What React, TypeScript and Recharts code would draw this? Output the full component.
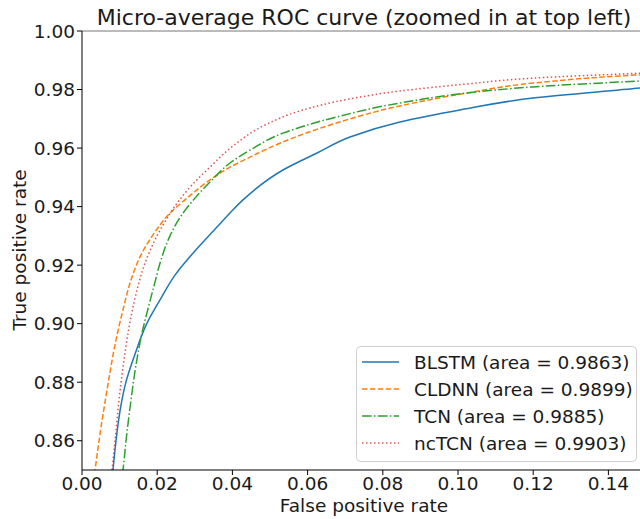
import { LineChart, Line, XAxis, YAxis, ReferenceLine } from 'recharts';

const xTicks = [0, 0.02, 0.04, 0.06, 0.08, 0.1, 0.12, 0.14];
const yTicks = [0.86, 0.88, 0.9, 0.92, 0.94, 0.96, 0.98, 1.0];

const blstmFpr = [0.0077, 0.00824, 0.00904, 0.01037, 0.0117, 0.01383, 0.01729, 0.02074, 0.02473, 0.02952, 0.0359, 0.03936, 0.04282, 0.05346, 0.0625, 0.07128, 0.08457, 0.10053, 0.11995, 0.1484, 0.15];
const blstmTpr = [0.8432, 0.85, 0.8599, 0.8722, 0.8801, 0.8886, 0.9002, 0.9081, 0.9166, 0.9241, 0.933, 0.9378, 0.9423, 0.9525, 0.9583, 0.9638, 0.9689, 0.973, 0.9771, 0.9805, 0.9807];

const cldnnFpr = [0.00266, 0.00346, 0.00452, 0.00665, 0.00904, 0.0109, 0.01303, 0.01569, 0.01941, 0.0234, 0.02793, 0.03324, 0.03803, 0.04468, 0.05346, 0.06676, 0.08457, 0.10239, 0.11995, 0.1484, 0.15];
const cldnnTpr = [0.8432, 0.85, 0.8599, 0.8773, 0.8944, 0.9047, 0.9149, 0.9235, 0.9313, 0.9378, 0.9429, 0.9484, 0.9525, 0.9569, 0.9621, 0.9682, 0.9744, 0.9788, 0.9822, 0.985, 0.9851];

const tcnFpr = [0.0101, 0.0109, 0.0117, 0.01303, 0.01436, 0.01596, 0.01782, 0.01941, 0.02101, 0.0234, 0.02633, 0.03005, 0.03457, 0.03936, 0.04468, 0.05346, 0.06676, 0.08457, 0.10239, 0.11995, 0.1484, 0.15];
const tcnTpr = [0.8432, 0.85, 0.8599, 0.8739, 0.8859, 0.8968, 0.9064, 0.9142, 0.9218, 0.93, 0.9368, 0.9429, 0.9491, 0.9549, 0.9593, 0.9651, 0.9703, 0.9754, 0.9788, 0.9809, 0.9829, 0.983];

const nctcnFpr = [0.0074, 0.00798, 0.00878, 0.00984, 0.01117, 0.01277, 0.01463, 0.01676, 0.01941, 0.02234, 0.02553, 0.02926, 0.03404, 0.04016, 0.0492, 0.05798, 0.07128, 0.08457, 0.10239, 0.11995, 0.1484, 0.15];
const nctcnTpr = [0.8432, 0.85, 0.8599, 0.8739, 0.8876, 0.9006, 0.9115, 0.9207, 0.9286, 0.9354, 0.9416, 0.9474, 0.9535, 0.9607, 0.9682, 0.9727, 0.9768, 0.9795, 0.9819, 0.9839, 0.9856, 0.9857];

const labels = ['BLSTM (area = 0.9863)', 'CLDNN (area = 0.9899)', 'TCN (area = 0.9885)', 'ncTCN (area = 0.9903)'];
const colors = ['#1f77b4', '#ff7f0e', '#2ca02c', '#d62728'];
const dashes = [undefined, '5.5 2.4', '9.6 2.4 1.5 2.4', '1.5 2.5'];

const zip = (xs: number[], ys: number[]) => xs.map((x, i) => ({ x, y: ys[i] }));
const series = [
  zip(blstmFpr, blstmTpr),
  zip(cldnnFpr, cldnnTpr),
  zip(tcnFpr, tcnTpr),
  zip(nctcnFpr, nctcnTpr),
];

const font = '"DejaVu Sans", sans-serif';
const tickStyle = { fill: '#1a1a1a', fontSize: 18.5, fontFamily: font };

export default function App() {
  return (
    <div style={{ position: 'fixed', left: 0, top: 0, width: 640, height: 519, overflow: 'hidden', background: '#fff' }}>
      <LineChart width={660} height={519} margin={{ top: 31, right: 14, left: 0, bottom: 0 }}>
        <XAxis
          type="number"
          dataKey="x"
          domain={[0, 0.15]}
          ticks={xTicks}
          interval={0}
          allowDataOverflow
          tickFormatter={(v: number) => v.toFixed(2)}
          height={49}
          tickSize={5}
          stroke="#000"
          tick={tickStyle}
        />
        <YAxis
          type="number"
          dataKey="y"
          domain={[0.85, 1]}
          ticks={yTicks}
          interval={0}
          allowDataOverflow
          tickFormatter={(v: number) => v.toFixed(2)}
          width={82}
          tickSize={5}
          stroke="#000"
          tick={tickStyle}
        />
        <ReferenceLine y={1} stroke="#777" />
        {series.map((d, i) => (
          <Line
            key={labels[i]}
            data={d}
            dataKey="y"
            type="monotoneY"
            stroke={colors[i]}
            strokeWidth={1.5}
            strokeDasharray={dashes[i]}
            strokeOpacity={i === 3 ? 0.8 : 1}
            dot={false}
            isAnimationActive={false}
          />
        ))}
      </LineChart>
      <svg width={640} height={519} style={{ position: 'absolute', left: 0, top: 0, pointerEvents: 'none' }}>
        <text x={364} y={25} textAnchor="middle" fontSize={22} fontFamily={font} fill="#1a1a1a">
          Micro-average ROC curve (zoomed in at top left)
        </text>
        <text x={364} y={512} textAnchor="middle" fontSize={18.5} fontFamily={font} fill="#1a1a1a">
          False positive rate
        </text>
        <text x={26} y={250} textAnchor="middle" fontSize={18.5} fontFamily={font} fill="#1a1a1a" transform="rotate(-90 26 250)">
          True positive rate
        </text>
        <rect x={356.5} y={346.5} width={280} height={115} rx={4} fill="#fff" fillOpacity={0.8} stroke="#d0d0d0" />
        {labels.map((name, i) => (
          <g key={name}>
            <line x1={362} x2={399} y1={362 + i * 27} y2={362 + i * 27} stroke={colors[i]} strokeWidth={1.5} strokeDasharray={dashes[i]} strokeOpacity={i === 3 ? 0.8 : 1} />
            <text x={414} y={368.5 + i * 27} fontSize={18.5} fontFamily={font} fill="#1a1a1a">
              {name}
            </text>
          </g>
        ))}
      </svg>
    </div>
  );
}
